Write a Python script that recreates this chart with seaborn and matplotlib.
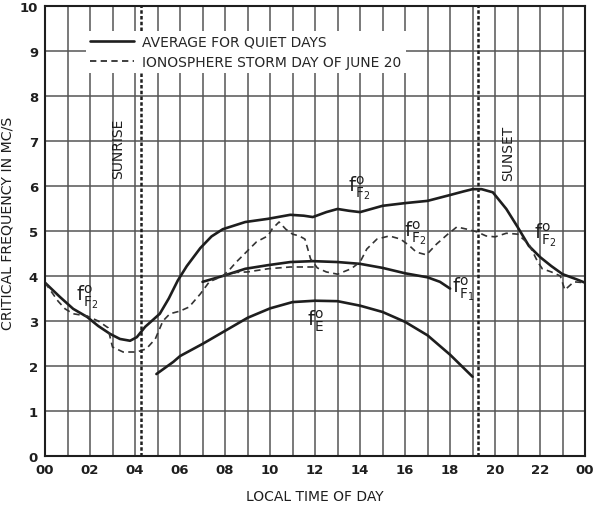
import matplotlib
matplotlib.use("Agg")
import matplotlib.pyplot as plt
import seaborn as sns

# ---- data: critical frequency (Mc/s) vs local time (hours) ----
quiet_f2_t = [0.0, 0.67, 1.25, 1.87, 2.36, 2.9, 3.33, 3.78, 4.08, 4.45, 5.1, 5.5,
              5.9, 6.3, 6.9, 7.4, 7.9, 8.9, 9.9, 10.9, 11.5, 11.9, 12.5, 13.0,
              13.5, 14.0, 15.0, 16.0, 17.0, 18.0, 18.6, 19.0, 19.4, 19.9, 20.5,
              21.0, 21.5, 22.0, 22.5, 23.0, 23.6, 24.0]
quiet_f2_v = [3.85, 3.53, 3.27, 3.09, 2.89, 2.71, 2.60, 2.56, 2.64, 2.87, 3.16, 3.5,
              3.9, 4.22, 4.62, 4.88, 5.04, 5.2, 5.27, 5.36, 5.34, 5.31, 5.42, 5.49,
              5.45, 5.42, 5.56, 5.62, 5.67, 5.80, 5.88, 5.93, 5.93, 5.86, 5.49,
              5.09, 4.67, 4.42, 4.22, 4.04, 3.93, 3.85]

quiet_f1_t = [7.0, 7.9, 8.9, 9.9, 10.9, 11.9, 13.0, 14.0, 15.0, 16.0, 17.0, 17.55, 18.0]
quiet_f1_v = [3.87, 4.0, 4.16, 4.24, 4.31, 4.33, 4.31, 4.27, 4.18, 4.06, 3.97, 3.87, 3.72]

quiet_e_t = [4.95, 5.7, 6.0, 7.0, 8.0, 9.0, 10.0, 11.0, 12.0, 13.0, 14.0, 15.0,
             16.0, 17.0, 18.0, 19.0]
quiet_e_v = [1.82, 2.09, 2.22, 2.49, 2.78, 3.07, 3.28, 3.42, 3.45, 3.44, 3.34, 3.2,
             2.98, 2.68, 2.25, 1.76]

storm_f2_t = [0.0, 0.58, 0.89, 1.25, 1.87, 2.36, 2.8, 2.9, 3.0, 3.47, 4.08, 4.5,
              4.9, 5.24, 5.55, 6.0, 6.4, 6.9, 7.3, 7.9, 8.2, 8.5, 9.0, 9.4, 9.9,
              10.1, 10.4, 10.7, 11.0, 11.3, 11.55, 11.7, 11.8, 12.1, 12.5, 13.0,
              13.6, 14.0, 14.3, 14.75, 15.3, 15.8, 16.2, 16.5, 16.95, 17.4, 17.9,
              18.3, 18.75, 19.2, 19.6, 20.0, 20.5, 21.0, 21.5, 21.9, 22.1, 22.5,
              22.9, 23.1, 23.5, 24.0]
storm_f2_v = [3.85, 3.44, 3.27, 3.16, 3.11, 3.0, 2.85, 2.62, 2.42, 2.31, 2.31, 2.38,
              2.6, 3.0, 3.16, 3.22, 3.31, 3.6, 3.87, 4.0, 4.14, 4.31, 4.56, 4.76, 4.89,
              5.05, 5.2, 5.04, 4.93, 4.89, 4.82, 4.56, 4.38, 4.18, 4.09, 4.04,
              4.16, 4.31, 4.6, 4.82, 4.89, 4.82, 4.67, 4.53, 4.47, 4.71, 4.93,
              5.09, 5.04, 4.98, 4.89, 4.87, 4.95, 4.93, 4.71, 4.31, 4.16, 4.09,
              4.0, 3.69, 3.87, 3.85]

storm_f1_t = [7.9, 8.5, 9.0, 9.9, 10.9, 11.9, 12.1]
storm_f1_v = [4.0, 4.08, 4.09, 4.16, 4.2, 4.2, 4.18]

sunrise_t = 4.25
sunset_t = 19.25

x_ticks = list(range(0, 25, 2))
x_tick_labels = ["00", "02", "04", "06", "08", "10", "12", "14", "16", "18", "20", "22", "00"]
y_ticks = list(range(0, 11))

legend_labels = ["AVERAGE FOR QUIET DAYS", "IONOSPHERE STORM DAY OF JUNE 20"]

# ---- figure ----
sns.set_style("white")
plt.rcParams["font.family"] = ["DejaVu Sans"]

ink = "#1e1e1e"
grid_col = "#555555"

fig, ax = plt.subplots(figsize=(5.94, 5.06), dpi=100)
fig.subplots_adjust(left=0.0758, right=0.985, bottom=0.097, top=0.986)

solid_kw = dict(color=ink, linewidth=1.9, estimator=None, ax=ax)
dash_kw = dict(color="#333333", linewidth=1.2, estimator=None, ax=ax,
               linestyle=(0, (3.8, 2.6)))

sns.lineplot(x=quiet_f2_t, y=quiet_f2_v, label=legend_labels[0], **solid_kw)
sns.lineplot(x=quiet_f1_t, y=quiet_f1_v, **solid_kw)
sns.lineplot(x=quiet_e_t, y=quiet_e_v, **solid_kw)
sns.lineplot(x=storm_f2_t, y=storm_f2_v, label=legend_labels[1], **dash_kw)
sns.lineplot(x=storm_f1_t, y=storm_f1_v, **dash_kw)

# sunrise / sunset markers
for t in (sunrise_t, sunset_t):
    ax.axvline(t, color=ink, linewidth=1.8, linestyle=(0, (1.4, 0.9)), zorder=3)
ax.text(3.25, 6.85, "SUNRISE", rotation=90, ha="center", va="center",
        fontsize=10, color=ink)
ax.text(20.6, 6.75, "SUNSET", rotation=90, ha="center", va="center",
        fontsize=10, color=ink)

# curve labels
def layer_label(x, y, sub):
    ax.text(x, y, r"$\mathrm{f}^{\mathrm{o}}_{\mathrm{" + sub + r"}}$",
            ha="center", va="center", fontsize=14, color=ink)

layer_label(1.85, 3.55, r"F_{2}")
layer_label(13.95, 5.98, r"F_{2}")
layer_label(16.45, 4.97, r"F_{2}")
layer_label(22.2, 4.93, r"F_{2}")
layer_label(18.6, 3.72, r"F_{1}")
layer_label(12.0, 3.02, r"E")

# axes, grid
ax.set_xlim(0, 24)
ax.set_ylim(0, 10)
ax.set_xticks(x_ticks)
ax.set_xticklabels(x_tick_labels)
ax.set_xticks(range(0, 25), minor=True)
ax.set_yticks(y_ticks)
ax.grid(True, which="both", color=grid_col, linewidth=1.1)
ax.set_axisbelow(True)
ax.tick_params(which="both", length=0, labelsize=9.5, colors=ink, pad=5)
for lab in ax.get_xticklabels() + ax.get_yticklabels():
    lab.set_fontweight("bold")
for sp in ax.spines.values():
    sp.set_color(ink)
    sp.set_linewidth(1.5)

ax.set_xlabel("LOCAL TIME OF DAY", fontsize=10, color=ink)
ax.set_ylabel("CRITICAL FREQUENCY IN MC/S", fontsize=10.2, color=ink)
ax.xaxis.set_label_coords(0.5, -0.073)
ax.yaxis.set_label_coords(-0.056, 0.52)

leg = ax.legend(loc="upper left", bbox_to_anchor=(0.075, 0.945), frameon=True,
                fontsize=10, handlelength=3.2, handletextpad=0.6,
                borderpad=0.3, labelspacing=0.45, borderaxespad=0)
leg.get_frame().set_facecolor("white")
leg.get_frame().set_edgecolor("none")
leg.get_frame().set_alpha(1.0)
leg.get_frame().set_boxstyle("square", pad=0)
for line in leg.get_lines():
    line.set_color(ink)

fig.savefig("out.png", dpi=100, facecolor="white")
